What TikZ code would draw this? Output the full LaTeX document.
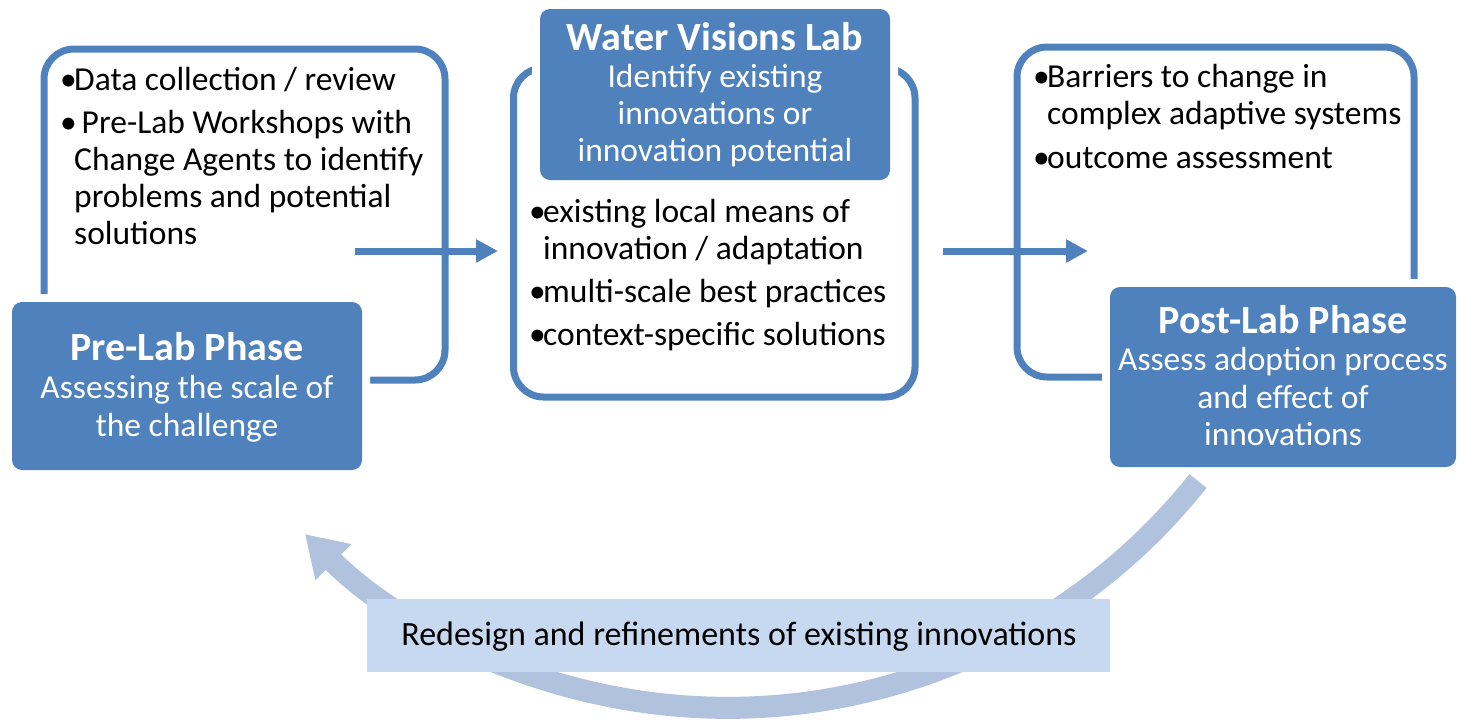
\documentclass[tikz,border=0pt]{standalone}
\usepackage{fontspec}
\setmainfont{Carlito}
\usetikzlibrary{arrows.meta}
\definecolor{labblue}{HTML}{4F81BD}
\definecolor{arcblue}{HTML}{B0C2DE}
\definecolor{notefill}{HTML}{C6D9F1}
% bullet with fixed width, used at the start of list items
\newcommand\bul{\makebox[14pt][l]{•}}
\newcommand\firstbul{\hangindent=14pt\hangafter=1\noindent\bul}
\newcommand\nextbul{\par\hangindent=14pt\hangafter=1\noindent\bul}
% natural interword spacing of the current font
\newcommand\natspace{\spaceskip=0pt\xspaceskip=0pt}
\tikzset{
  frame/.style={draw=labblue, line width=7pt, rounded corners=30pt, inner sep=0pt},
  phasebox/.style={fill=labblue, rounded corners=10pt, inner sep=0pt,
    preaction={draw=white, line width=16pt}},
  notebox/.style={fill=notefill, inner sep=0pt},
  listtxt/.style={inner sep=0pt, text width=420pt,
    font=\fontsize{33.5}{37}\selectfont},
  phasetxt/.style={inner sep=0pt, text width=345pt, text=white},
  flow/.style={draw=labblue, line width=7pt, -{Triangle[length=22pt,width=22pt]}},
  loopback/.style={draw=arcblue, line width=22pt, -{Triangle[length=40pt,width=48pt]}},
}
\begin{document}
\begin{tikzpicture}[x=1pt, y=-1pt]
  \useasboundingbox (0,0) rectangle (1459,721);

  % open frames around the three phases
  \node[frame, minimum width=401pt, minimum height=331pt] (leftframe) at (244.5,214.5) {};
  \node[frame, minimum width=401.5pt, minimum height=329pt] (midframe) at (714.25,232.5) {};
  \node[frame, minimum width=397pt, minimum height=330pt] (rightframe) at (1215.5,212) {};

  % flow arrows between the phases
  \coordinate (a1s) at (355,251);
  \coordinate (a1e) at (498,251);
  \coordinate (a2s) at (943,251);
  \coordinate (a2e) at (1088,251);
  \draw[flow] (a1s) -- (a1e);
  \draw[flow] (a2s) -- (a2e);

  % phase boxes
  \node[phasebox, minimum width=350pt, minimum height=168pt] (prebox) at (187,386) {};
  \node[phasebox, minimum width=350pt, minimum height=171pt] (labbox) at (715,94.5) {};
  \node[phasebox, minimum width=346pt, minimum height=180pt] (postbox) at (1283,377) {};

  % feedback loop
  \coordinate (loopstart) at (1198,481);
  \draw[loopback] (loopstart) arc[start angle=38.5, end angle=134.7, radius=601];
  \node[notebox, minimum width=743pt, minimum height=73pt] (note) at (738.5,635.5) {};

  % texts
  \node[phasetxt, anchor=base] (pretxt) at (187,360)
    {\natspace\centering{\bfseries\fontsize{40}{40}\selectfont Pre-Lab Phase\par}
     \fontsize{33.5}{38}\selectfont Assessing the scale of\\the challenge\par};
  \node[phasetxt, anchor=base] (labtxt) at (715,50)
    {\natspace\centering{\bfseries\fontsize{40}{40}\selectfont Water Visions Lab\par}
     \fontsize{33.5}{37}\selectfont Identify existing\\innovations or\\innovation potential\par};
  \node[phasetxt, anchor=base] (posttxt) at (1283,333)
    {\natspace\centering{\bfseries\fontsize{40}{40}\selectfont Post-Lab Phase\par}
     \fontsize{33.5}{37.5}\selectfont Assess adoption process\\and effect of\\innovations\par};

  \node[listtxt, anchor=base west] (prelist) at (60,90)
    {\natspace\raggedright\parindent=0pt\parskip=6pt
     \firstbul Data collection / review
     \nextbul\ Pre-Lab Workshops with\newline Change Agents to identify\newline
     problems and potential\newline solutions\par};
  \node[listtxt, anchor=base west] (lablist) at (529,222)
    {\natspace\raggedright\parindent=0pt\parskip=6pt
     \firstbul existing local means of\newline innovation / adaptation
     \nextbul multi-scale best practices
     \nextbul context-specific solutions\par};
  \node[listtxt, anchor=base west] (postlist) at (1033,87)
    {\natspace\raggedright\parindent=0pt\parskip=7pt
     \firstbul Barriers to change in\newline complex adaptive systems
     \nextbul outcome assessment\par};

  \node[inner sep=0pt, anchor=base] (notetxt) at (739,645)
    {\natspace\fontsize{34}{38}\selectfont Redesign and refinements of existing innovations};
\end{tikzpicture}
\end{document}
